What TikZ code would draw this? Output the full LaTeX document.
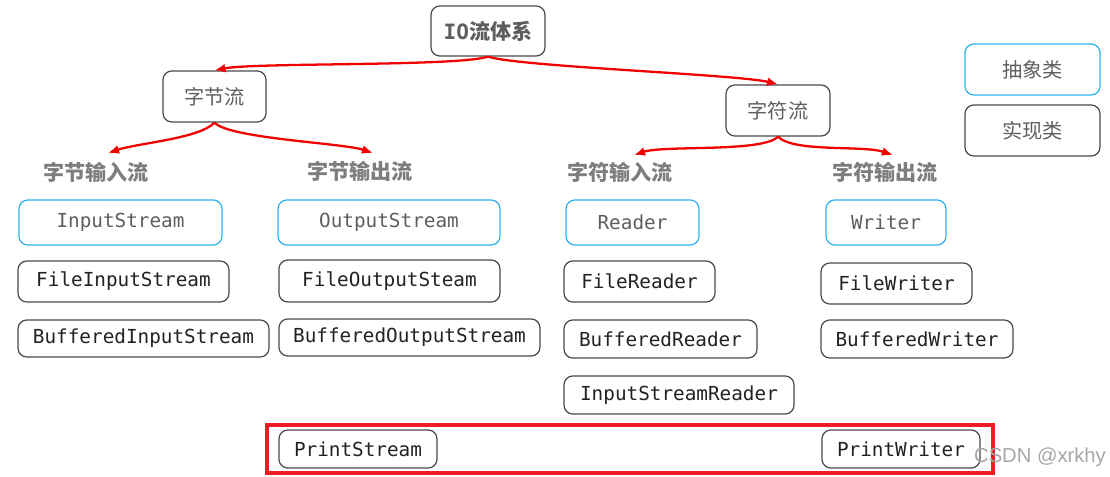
\documentclass[tikz,border=0pt]{standalone}
\usepackage{fontspec}
\setmainfont{Noto Sans CJK SC}
\setmonofont{DejaVu Sans Mono}
\setsansfont{Liberation Sans}
\usepackage{tikz}
\usetikzlibrary{arrows.meta,positioning,calc}
\definecolor{ioRed}{HTML}{EE1D25}
\definecolor{ioArrow}{HTML}{F00000}
\definecolor{ioBlue}{HTML}{2EB2EC}
\definecolor{ioInk}{HTML}{222222}
\definecolor{ioGray}{HTML}{5E5E5E}
\definecolor{ioEdge}{HTML}{4A4A4A}
\tikzset{
  ioArrowStyle/.style={-{Latex[length=2.2mm,width=1.8mm]},line width=1.3pt,draw=ioArrow},
  ioBox/.style={draw=ioEdge,rounded corners=5pt,line width=0.7pt,inner sep=0pt,
    font=\fontsize{11.5}{13}\selectfont,text=ioGray,align=center},
  ioAbs/.style={ioBox,draw=ioBlue,font=\ttfamily\fontsize{11}{13}\selectfont,text=ioGray},
  ioImpl/.style={ioBox,font=\ttfamily\fontsize{11}{13}\selectfont,text=ioInk},
  ioCat/.style={font=\bfseries\fontsize{12}{14}\selectfont,text=ioGray!80},
  ioSize/.style args={#1x#2}{minimum width=#1*0.02cm,minimum height=#2*0.02cm}
}
\begin{document}
\begin{tikzpicture}[x=0.02cm,y=-0.02cm]
\path[use as bounding box] (0,0) rectangle (1110,477);
\node[ioBox,ioSize=114x50,font=\bfseries\fontsize{12}{14}\selectfont] (io) at (488,31)
  {{\ttfamily IO}流体系};
\node[ioBox,ioSize=103x51] (zj) at (214.5,96.5) {字节流};
\node[ioBox,ioSize=104x51] (zf) at (778,110.5) {字符流};
\node[ioBox,ioSize=135x51,draw=ioBlue] (legAbs) at (1032.5,69.5) {抽象类};
\node[ioBox,ioSize=135x51] (legImpl) at (1032.5,130.5) {实现类};
\node[ioCat] (zjIn) at (96,172) {字节输入流};
\node[ioCat] (zjOut) at (360,171) {字节输出流};
\node[ioCat] (zfIn) at (620,172) {字符输入流};
\node[ioCat] (zfOut) at (885,172) {字符输出流};
\node[ioAbs,ioSize=203x45] (inStream) at (120.5,222.5) {InputStream};
\node[ioAbs,ioSize=222x45] (outStream) at (389,222.5) {OutputStream};
\node[ioAbs,ioSize=133x45] (reader) at (632.5,222.5) {Reader};
\node[ioAbs,ioSize=120x45] (writer) at (886,222.5) {Writer};
\node[ioImpl,ioSize=211x41] (fileIn) at (123.5,281.5) {FileInputStream};
\node[ioImpl,ioSize=221x42] (fileOut) at (389.5,281) {FileOutputSteam};
\node[ioImpl,ioSize=251x37] (bufIn) at (143.5,338.5) {BufferedInputStream};
\node[ioImpl,ioSize=261x37] (bufOut) at (409.5,337.5) {BufferedOutputStream};
\node[ioImpl,ioSize=151x41] (fileRd) at (639.5,281.5) {FileReader};
\node[ioImpl,ioSize=151x41] (fileWr) at (896.5,283.5) {FileWriter};
\node[ioImpl,ioSize=193x38] (bufRd) at (660.5,339) {BufferedReader};
\node[ioImpl,ioSize=192x38] (bufWr) at (917,339) {BufferedWriter};
\node[ioImpl,ioSize=230x38] (isRd) at (679,395) {InputStreamReader};
\node[ioImpl,ioSize=158x38] (printSt) at (358,449) {PrintStream};
\node[ioImpl,ioSize=158x38] (printWr) at (901,449) {PrintWriter};
\draw[draw=ioRed,line width=1.8pt] (267,425) rectangle (993,473);
\coordinate (zjInTip) at (108,153);
\coordinate (zjOutTip) at (373,153);
\coordinate (zfInTip) at (634,155);
\coordinate (zfOutTip) at (893,155);
\draw[ioArrowStyle] (io.south) .. controls +(-30,10) and +(40,-8) .. (zj.north);
\draw[ioArrowStyle] (io.south) .. controls +(30,10) and +(-40,-10) .. (zf.north);
\foreach \from/\to in {zj/zjInTip,zf/zfInTip}
  \draw[ioArrowStyle] (\from.south) .. controls +(-15,16) and +(30,-10) .. (\to);
\foreach \from/\to in {zj/zjOutTip,zf/zfOutTip}
  \draw[ioArrowStyle] (\from.south) .. controls +(15,16) and +(-30,-10) .. (\to);
\node[font=\sffamily\fontsize{11.5}{13}\selectfont,text=black!35] (mark) at (1040,457) {CSDN @xrkhy};
\end{tikzpicture}
\end{document}
